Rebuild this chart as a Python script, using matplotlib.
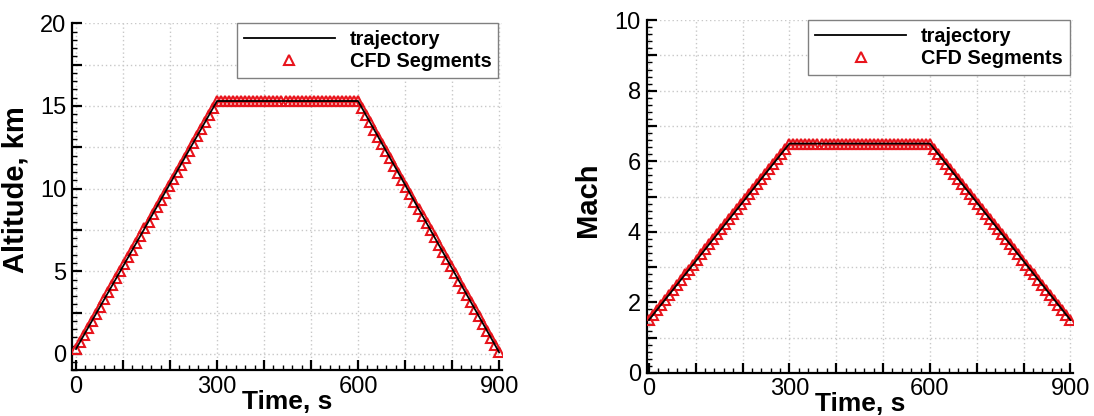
import matplotlib
matplotlib.use('Agg')
import matplotlib.pyplot as plt
from matplotlib.ticker import MultipleLocator, FuncFormatter

plt.rcParams['font.family'] = ['Liberation Sans', 'DejaVu Sans']

# trajectory (piecewise linear)
traj_time = [0, 300, 600, 900]
traj_alt = [0.3, 15.3, 15.3, 0.1]
traj_mach = [1.5, 6.5, 6.5, 1.5]

# CFD segment points
cfd_time = [
    0, 8.6, 17.1, 25.7, 34.3, 42.9, 51.4,
    60, 68.6, 77.1, 85.7, 94.3, 102.9, 111.4,
    120, 128.6, 137.1, 145.7, 154.3, 162.9, 171.4,
    180, 188.6, 197.1, 205.7, 214.3, 222.9, 231.4,
    240, 248.6, 257.1, 265.7, 274.3, 282.9, 291.4,
    300, 308.6, 317.1, 325.7, 334.3, 342.9, 351.4,
    360, 368.6, 377.1, 385.7, 394.3, 402.9, 411.4,
    420, 428.6, 437.1, 445.7, 454.3, 462.9, 471.4,
    480, 488.6, 497.1, 505.7, 514.3, 522.9, 531.4,
    540, 548.6, 557.1, 565.7, 574.3, 582.9, 591.4,
    600, 608.6, 617.1, 625.7, 634.3, 642.9, 651.4,
    660, 668.6, 677.1, 685.7, 694.3, 702.9, 711.4,
    720, 728.6, 737.1, 745.7, 754.3, 762.9, 771.4,
    780, 788.6, 797.1, 805.7, 814.3, 822.9, 831.4,
    840, 848.6, 857.1, 865.7, 874.3, 882.9, 891.4,
    900,
]
cfd_alt = [
    0.30, 0.73, 1.16, 1.59, 2.01, 2.44, 2.87, 3.30, 3.73, 4.16,
    4.59, 5.01, 5.44, 5.87, 6.30, 6.73, 7.16, 7.59, 8.01, 8.44,
    8.87, 9.30, 9.73, 10.16, 10.59, 11.01, 11.44, 11.87, 12.30, 12.73,
    13.16, 13.59, 14.01, 14.44, 14.87,
    15.30, 15.30, 15.30, 15.30, 15.30, 15.30, 15.30, 15.30, 15.30, 15.30,
    15.30, 15.30, 15.30, 15.30, 15.30, 15.30, 15.30, 15.30, 15.30, 15.30,
    15.30, 15.30, 15.30, 15.30, 15.30, 15.30, 15.30, 15.30, 15.30, 15.30,
    15.30, 15.30, 15.30, 15.30, 15.30,
    15.30, 14.87, 14.43, 14.00, 13.56, 13.13, 12.69, 12.26, 11.83, 11.39,
    10.96, 10.52, 10.09, 9.65, 9.22, 8.79, 8.35, 7.92, 7.48, 7.05,
    6.61, 6.18, 5.75, 5.31, 4.88, 4.44, 4.01, 3.57, 3.14, 2.71,
    2.27, 1.84, 1.40, 0.97, 0.53, 0.10,
]
cfd_mach = [
    1.50, 1.64, 1.79, 1.93, 2.07, 2.21, 2.36, 2.50, 2.64, 2.79,
    2.93, 3.07, 3.21, 3.36, 3.50, 3.64, 3.79, 3.93, 4.07, 4.21,
    4.36, 4.50, 4.64, 4.79, 4.93, 5.07, 5.21, 5.36, 5.50, 5.64,
    5.79, 5.93, 6.07, 6.21, 6.36,
    6.50, 6.50, 6.50, 6.50, 6.50, 6.50, 6.50, 6.50, 6.50, 6.50,
    6.50, 6.50, 6.50, 6.50, 6.50, 6.50, 6.50, 6.50, 6.50, 6.50,
    6.50, 6.50, 6.50, 6.50, 6.50, 6.50, 6.50, 6.50, 6.50, 6.50,
    6.50, 6.50, 6.50, 6.50, 6.50,
    6.50, 6.36, 6.21, 6.07, 5.93, 5.79, 5.64, 5.50, 5.36, 5.21,
    5.07, 4.93, 4.79, 4.64, 4.50, 4.36, 4.21, 4.07, 3.93, 3.79,
    3.64, 3.50, 3.36, 3.21, 3.07, 2.93, 2.79, 2.64, 2.50, 2.36,
    2.21, 2.07, 1.93, 1.79, 1.64, 1.50,
]


def label_every(step):
    def fmt(v, pos):
        if abs(v / step - round(v / step)) < 1e-6:
            return '%g' % v
        return ''
    return FuncFormatter(fmt)


def style_axes(ax, ymaj, ymin, ylab_step, ylabel):
    for s in ['top', 'right']:
        ax.spines[s].set_visible(False)
    for s in ['left', 'bottom']:
        ax.spines[s].set_linewidth(1.6)
    ax.xaxis.set_major_locator(MultipleLocator(100))
    ax.xaxis.set_minor_locator(MultipleLocator(20))
    ax.xaxis.set_major_formatter(label_every(300))
    ax.yaxis.set_major_locator(MultipleLocator(ymaj))
    ax.yaxis.set_minor_locator(MultipleLocator(ymin))
    ax.yaxis.set_major_formatter(label_every(ylab_step))
    ax.tick_params(which='major', direction='in', length=7, width=1.6,
                   labelsize=17, pad=4, top=False, right=False)
    ax.tick_params(which='minor', direction='in', length=3.5, width=1.0,
                   top=False, right=False)
    ax.grid(True, which='major', color='#c8c8c8', linestyle=(0, (1, 2)),
            linewidth=1.0)
    ax.set_axisbelow(True)
    ax.set_xlabel('Time, s', fontsize=19, fontweight='bold', labelpad=-6)
    ax.set_ylabel(ylabel, fontsize=21, fontweight='bold')


fig = plt.figure(figsize=(10.94, 4.16), dpi=100)
ax1 = fig.add_axes([0.0658, 0.1094, 0.393, 0.8346])
ax2 = fig.add_axes([0.591, 0.1036, 0.390, 0.848])

for ax, yc, yt, ylim, xlim, ymaj, ymin, ystep, ylabel in [
    (ax1, cfd_alt, traj_alt, (-1, 20), (-8.5, 906), 2.5, 0.5, 5, 'Altitude, km'),
    (ax2, cfd_mach, traj_mach, (0, 10), (-5, 906), 1, 0.2, 2, 'Mach'),
]:
    ax.plot(cfd_time, yc, linestyle='none', marker='^', markersize=7.5,
            markerfacecolor='none', markeredgecolor='#e8141c',
            markeredgewidth=1.5, label='CFD Segments', zorder=3)
    ax.plot(traj_time, yt, color='black', linewidth=1.3, label='trajectory',
            zorder=4)
    ax.set_xlim(*xlim)
    ax.set_ylim(*ylim)
    style_axes(ax, ymaj, ymin, ystep, ylabel)
    handles, labels = ax.get_legend_handles_labels()
    leg = ax.legend(handles[::-1], labels[::-1], loc='upper right',
                    bbox_to_anchor=(0.992, 1.0), borderaxespad=0,
                    numpoints=1, handlelength=4.6, handletextpad=0.75,
                    labelspacing=0.15, borderpad=0.35, fancybox=False,
                    framealpha=1, edgecolor='#808080',
                    prop={'size': 14.3, 'weight': 'bold'})
    leg.get_frame().set_linewidth(1.0)

ax1.yaxis.set_label_coords(-0.098, 0.52)
ax2.yaxis.set_label_coords(-0.105, 0.49)

fig.savefig('out.png', dpi=100)
